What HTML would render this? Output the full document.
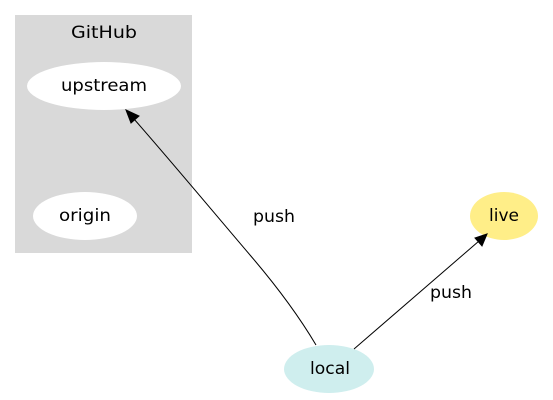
<!DOCTYPE html>
<html><head><style>html,body{margin:0;padding:0;background:#fff;}svg{display:block;}</style></head>
<body>
<svg width="553" height="400" xmlns="http://www.w3.org/2000/svg" font-family="'DejaVu Sans','Liberation Sans',sans-serif" font-size="17">
<rect x="15" y="15" width="177" height="238" fill="#d9d9d9"/>
<text x="104" y="38" text-anchor="middle" textLength="66" lengthAdjust="spacingAndGlyphs">GitHub</text>
<ellipse cx="104" cy="86" rx="77" ry="24" fill="#fff"/>
<text x="104" y="91" text-anchor="middle" textLength="86" lengthAdjust="spacingAndGlyphs">upstream</text>
<ellipse cx="85" cy="216" rx="52" ry="24" fill="#fff"/>
<text x="85" y="221" text-anchor="middle" textLength="52" lengthAdjust="spacingAndGlyphs">origin</text>
<ellipse cx="504" cy="216" rx="34" ry="24" fill="#ffee88"/>
<text x="504" y="221" text-anchor="middle" textLength="30" lengthAdjust="spacingAndGlyphs">live</text>
<ellipse cx="329" cy="369" rx="45" ry="24" fill="#cfeeee"/>
<text x="330" y="374" text-anchor="middle" textLength="40" lengthAdjust="spacingAndGlyphs">local</text>
<path d="M316,345 C300,318 280,290 250,255 C210,208 170,160 134,119" fill="none" stroke="#000" stroke-width="1"/>
<polygon points="126,110 139,116 131,123" fill="#000" stroke="#000"/>
<text x="274" y="222" text-anchor="middle" textLength="42" lengthAdjust="spacingAndGlyphs">push</text>
<path d="M354,349 L479,241" fill="none" stroke="#000" stroke-width="1"/>
<polygon points="487,234 482,246 475,238" fill="#000" stroke="#000"/>
<text x="451" y="298" text-anchor="middle" textLength="42" lengthAdjust="spacingAndGlyphs">push</text>
</svg>
</body></html>
